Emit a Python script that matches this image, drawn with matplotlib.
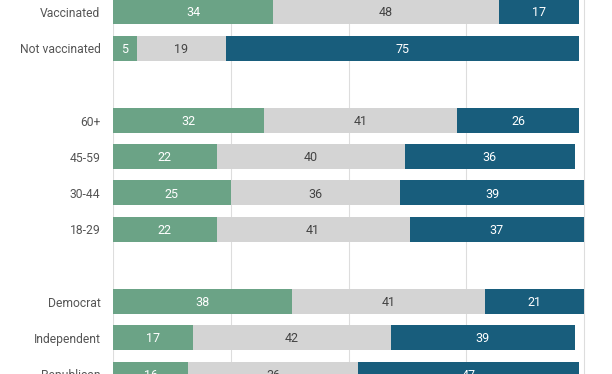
import numpy as np
import matplotlib.pyplot as plt

plt.rcParams['font.family'] = ['Roboto', 'DejaVu Sans']

labels = ['Vaccinated', 'Not vaccinated', '', '60+', '45-59', '30-44', '18-29',
          '', 'Democrat', 'Independent', 'Republican']
green = [34, 5, None, 32, 22, 25, 22, None, 38, 17, 16]
gray = [48, 19, None, 41, 40, 36, 41, None, 41, 42, 36]
blue = [17, 75, None, 26, 36, 39, 37, None, 21, 39, 47]

colors = ['#6ba386', '#d4d4d4', '#185d7c']
txtcol = ['white', '#444444', 'white']

fig = plt.figure(figsize=(6.12, 3.74), dpi=100)
ax = fig.add_axes([113 / 612, 0, 1 - 113 / 612, 1])

for i in range(len(labels)):
    if green[i] is None:
        continue
    left = 0
    for j, v in enumerate([green[i], gray[i], blue[i]]):
        ax.barh(i, v, left=left, height=0.69, color=colors[j], zorder=2)
        ax.text(left + v / 2, i + 0.03, str(v), ha='center', va='center',
                fontsize=9, color=txtcol[j], zorder=3)
        left += v

for x in [0, 25, 50, 75, 100]:
    ax.axvline(x, color='#dddddd', lw=0.8, zorder=1)

# 36.6 px per row, first row centre at 12 px
ax.set_xlim(0, 499 / 4.71)
ax.set_ylim((374 - 12) / 36.6, -12 / 36.6)
ax.set_yticks(range(len(labels)))
ax.set_yticklabels(labels, fontsize=8.7, color='#555555')
ax.tick_params(axis='y', length=0, pad=9)
ax.set_xticks([])
for s in ax.spines.values():
    s.set_visible(False)

fig.savefig('out.png', dpi=100)
